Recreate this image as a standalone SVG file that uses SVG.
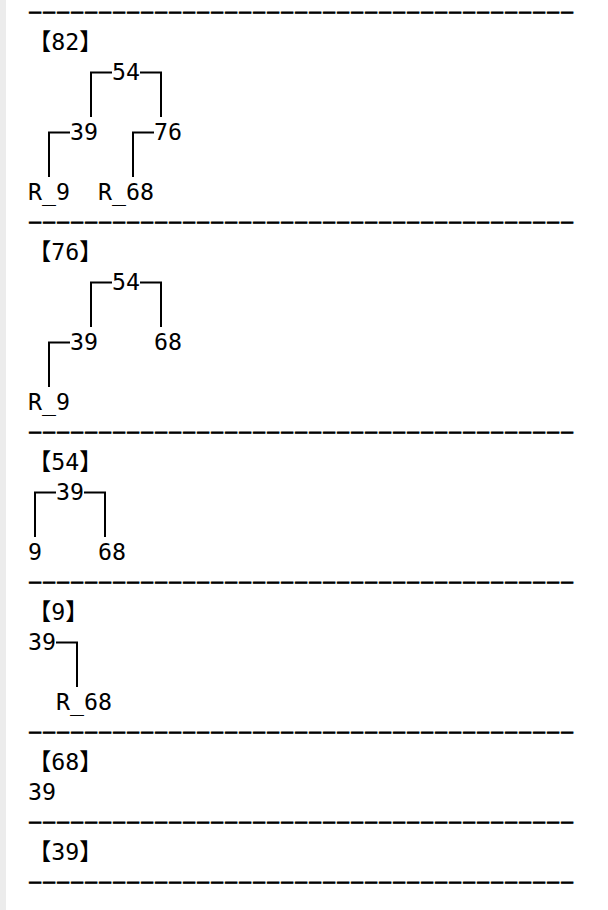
<svg xmlns="http://www.w3.org/2000/svg" width="608" height="910" viewBox="0 0 608 910">
<style>
text{font-family:"DejaVu Sans Mono","Noto Sans CJK SC",monospace;font-size:23.25px;fill:#000}
text.sep{font-size:19.5px;letter-spacing:2.26px;stroke:#000;stroke-width:0.8px}
.c{fill:none;stroke:#000;stroke-width:2}
</style>
<rect x="0" y="0" width="608" height="910" fill="#fff"/>
<rect x="0" y="0" width="6" height="910" fill="#ececec"/>
<g id="separators">
<text class="sep" x="29.3" y="18.3">———————————————————————————————————————</text>
<text class="sep" x="29.3" y="228.3">———————————————————————————————————————</text>
<text class="sep" x="29.3" y="438.3">———————————————————————————————————————</text>
<text class="sep" x="29.3" y="588.3">———————————————————————————————————————</text>
<text class="sep" x="29.3" y="738.3">———————————————————————————————————————</text>
<text class="sep" x="29.3" y="828.3">———————————————————————————————————————</text>
<text class="sep" x="29.3" y="888.3">———————————————————————————————————————</text>
</g>
<g id="titles">
<text x="28" y="50">【82】</text>
<text x="28" y="260">【76】</text>
<text x="28" y="470">【54】</text>
<text x="28" y="620">【9】</text>
<text x="28" y="770">【68】</text>
<text x="28" y="860">【39】</text>
</g>
<g id="connectors">
<path class="c" d="M91,117V72.5H112M140,72.5H161V117"/>
<path class="c" d="M49,177V132.5H70M133,177V132.5H154"/>
<path class="c" d="M91,327V282.5H112M140,282.5H161V327"/>
<path class="c" d="M49,387V342.5H70"/>
<path class="c" d="M35,537V492.5H56M84,492.5H105V537"/>
<path class="c" d="M56,642.5H77V687"/>
</g>
<g id="t1-54"><text x="112" y="80">54</text></g>
<g id="t1-39"><text x="70" y="140">39</text></g>
<g id="t1-76"><text x="154" y="140">76</text></g>
<g id="t1-R9"><text x="28" y="200">R_9</text></g>
<g id="t1-R68"><text x="98" y="200">R_68</text></g>
<g id="t2-54"><text x="112" y="290">54</text></g>
<g id="t2-39"><text x="70" y="350">39</text></g>
<g id="t2-68"><text x="154" y="350">68</text></g>
<g id="t2-R9"><text x="28" y="410">R_9</text></g>
<g id="t3-39"><text x="56" y="500">39</text></g>
<g id="t3-9"><text x="28" y="560">9</text></g>
<g id="t3-68"><text x="98" y="560">68</text></g>
<g id="t4-39"><text x="28" y="650">39</text></g>
<g id="t4-R68"><text x="56" y="710">R_68</text></g>
<g id="t5-39"><text x="28" y="800">39</text></g>
</svg>
